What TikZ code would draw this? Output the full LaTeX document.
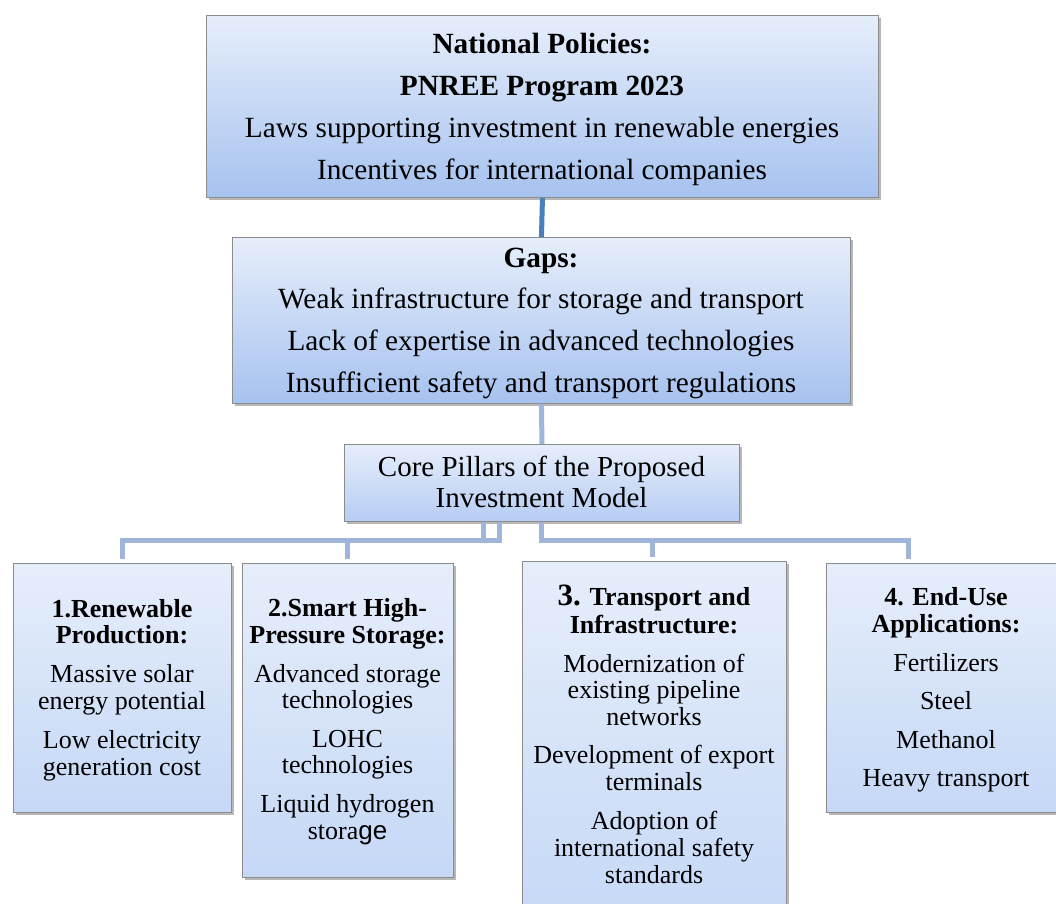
\documentclass[tikz,border=0pt]{standalone}
\usepackage{fontspec}
\setmainfont{Liberation Serif}
\newfontfamily\sansface{Liberation Sans}
\usetikzlibrary{shadows,calc}

\definecolor{boxedge}{HTML}{8C8C8C}
\definecolor{paneltop}{HTML}{E6EEFB}
\definecolor{deepfade}{HTML}{A6C2EF}
\definecolor{midfade}{HTML}{B6CDF3}
\definecolor{softfade}{HTML}{C5D8F6}
\definecolor{linklight}{HTML}{9FB5D9}
\definecolor{linkdark}{HTML}{4A7EBD}

\tikzset{
  panel/.style={draw=boxedge, line width=0.9pt, anchor=north west, inner sep=0pt,
    top color=paneltop, bottom color=#1,
    drop shadow={shadow xshift=2.5pt, shadow yshift=-3pt, opacity=0.4, fill=black!70}},
  panel/.default=softfade,
  link/.style={draw=linklight, line width=5pt},
  linkstrong/.style={draw=linkdark, line width=5pt},
  bighead/.style={anchor=base, inner sep=0pt, font=\bfseries\fontsize{29.3}{34}\selectfont},
  bigtext/.style={anchor=base, inner sep=0pt, font=\fontsize{29.3}{34}\selectfont},
  coretext/.style={anchor=base, inner sep=0pt, font=\fontsize{29}{32}\selectfont},
  smallhead/.style={anchor=base, inner sep=0pt, font=\bfseries\fontsize{26}{28}\selectfont},
  smalltext/.style={anchor=base, inner sep=0pt, font=\fontsize{26}{28}\selectfont}
}

\begin{document}
\begin{tikzpicture}[x=1pt,y=-1pt]
\useasboundingbox (0,0) rectangle (1056,903);
\clip (0,0) rectangle (1056,903);
\fill[white] (0,0) rectangle (1056,903);

% boxes
\node[panel=deepfade, minimum width=672pt, minimum height=182pt] (top) at (206,15) {};
\node[panel=deepfade, minimum width=618pt, minimum height=166pt] (gaps) at (232,237) {};
\node[panel=midfade, minimum width=395pt, minimum height=77pt] (core) at (344,444) {};
\node[panel, minimum width=218pt, minimum height=249pt] (b1) at (13,563) {};
\node[panel, minimum width=211pt, minimum height=314pt] (b2) at (242,563) {};
\node[panel, minimum width=264pt, minimum height=370pt] (b3) at (522,561) {};
\node[panel, minimum width=240pt, minimum height=249pt] (b4) at (826,563) {};

% connectors
\draw[linkstrong] (top.south) -- (gaps.north);
\draw[link] (gaps.south) -- (core.north);
\draw[link, shorten >=4pt] ([xshift=-58pt]core.south) -- ++(0,19) -| (b1.north);
\draw[link, shorten >=4pt] ([xshift=-42pt]core.south) -- ++(0,19) -| (b2.north);
\draw[link, shorten >=4pt] (core.south) -- ++(0,19) -| ([xshift=-2pt]b3.north);
\draw[link, shorten >=4pt] (core.south) -- ++(0,19) -| ([xshift=-38pt]b4.north);

% national policies
\node[bighead] (t1) at (542,53) {National Policies:};
\node[bighead] (t2) at (542,95) {PNREE Program 2023};
\node[bigtext] (t3) at (542,137) {Laws supporting investment in renewable energies};
\node[bigtext] (t4) at (542,179) {Incentives for international companies};

% gaps
\node[bighead] (g1) at (541,267) {Gaps:};
\node[bigtext] (g2) at (541,308) {Weak infrastructure for storage and transport};
\node[bigtext] (g3) at (541,350) {Lack of expertise in advanced technologies};
\node[bigtext] (g4) at (541,392) {Insufficient safety and transport regulations};

% core pillars
\node[coretext] (c1) at (541.5,476) {Core Pillars of the Proposed};
\node[coretext] (c2) at (541.5,507) {Investment Model};

% pillar 1
\node[smallhead] (p1a) at (122,617) {1.Renewable};
\node[smallhead] (p1b) at (122,643) {Production:};
\node[smalltext] (p1c) at (122,682) {Massive solar};
\node[smalltext] (p1d) at (122,709) {energy potential};
\node[smalltext] (p1e) at (122,748) {Low electricity};
\node[smalltext] (p1f) at (122,775) {generation cost};

% pillar 2
\node[smallhead] (p2a) at (347.5,616) {2.Smart High-};
\node[smallhead] (p2b) at (347.5,643) {Pressure Storage:};
\node[smalltext] (p2c) at (347.5,682) {Advanced storage};
\node[smalltext] (p2d) at (347.5,708) {technologies};
\node[smalltext] (p2e) at (347.5,747) {LOHC};
\node[smalltext] (p2f) at (347.5,773) {technologies};
\node[smalltext] (p2g) at (347.5,812) {Liquid hydrogen};
\node[smalltext] (p2h) at (347.5,839) {stora{\sansface ge}};

% pillar 3
\node[smallhead] (p3a) at (654,605) {{\fontsize{31}{34}\selectfont 3.} Transport and};
\node[smallhead] (p3b) at (654,633) {Infrastructure:};
\node[smalltext] (p3c) at (654,672) {Modernization of};
\node[smalltext] (p3d) at (654,698) {existing pipeline};
\node[smalltext] (p3e) at (654,725) {networks};
\node[smalltext] (p3f) at (654,763) {Development of export};
\node[smalltext] (p3g) at (654,790) {terminals};
\node[smalltext] (p3h) at (654,829) {Adoption of};
\node[smalltext] (p3i) at (654,856) {international safety};
\node[smalltext] (p3j) at (654,883) {standards};

% pillar 4
\node[smallhead] (p4a) at (946,605) {4. End-Use};
\node[smallhead] (p4b) at (946,632) {Applications:};
\node[smalltext] (p4c) at (946,671) {Fertilizers};
\node[smalltext] (p4d) at (946,709) {Steel};
\node[smalltext] (p4e) at (946,748) {Methanol};
\node[smalltext] (p4f) at (946,786) {Heavy transport};
\end{tikzpicture}
\end{document}
